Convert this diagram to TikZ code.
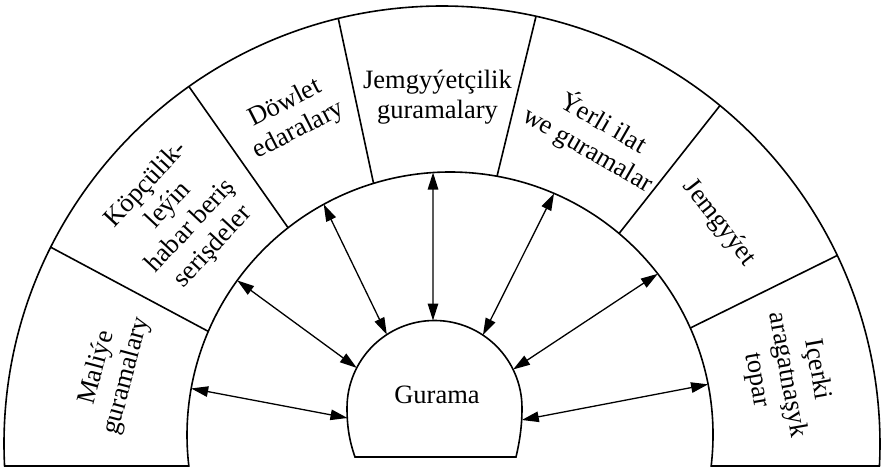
\documentclass[tikz,border=0pt]{standalone}
\usepackage{fontspec}
\setmainfont{Liberation Serif}
\usetikzlibrary{arrows.meta,calc}
\begin{document}
\begin{tikzpicture}[x=1pt,y=1pt,
  outline/.style={line width=1.6pt, line join=miter},
  link/.style={line width=1.3pt, {Triangle[length=17pt,width=10.5pt]}-{Triangle[length=17pt,width=10.5pt]}},
  lbl/.style={align=center, font=\fontsize{26.5}{30.5}\selectfont, inner sep=0pt}]
\useasboundingbox (0,0) rectangle (881,470);
% centres
\coordinate (O) at (442,26);
\coordinate (I) at (450,35);
\coordinate (G) at (434.5,62);
% ring
\draw[outline] ($(O)+(182.88:438)$) arc[start angle=182.88, end angle=-2.88, radius=438]
  -- ($(I)+(-6.77:263)$) arc[start angle=-6.77, end angle=186.77, radius=263] -- cycle;
% dividers
\foreach \a/\b in {153.3/156.8, 125.3/128, 103.7/106.9, 77.6/79.7, 50.6/50, 25.5/24}
  \draw[outline] ($(O)+(\a:438)$) -- ($(I)+(\b:263)$);
% Gurama shape
\draw[outline] (355,13) .. controls (349,30) and (347,45) .. (347,62)
  arc[start angle=180, end angle=0, radius=87.5]
  .. controls (522,45) and (520,30) .. (516,13) -- cycle;
\node[lbl, anchor=base] (gurama) at (437,66) {Gurama};
% sector labels
\node[lbl, rotate=75] (maliye) at (112,98) {Maliýe\\guramalary};
\node[lbl, rotate=47] (kopculik) at (180,254) {Köpçülik-\\leýin\\habar beriş\\serişdeler};
\node[lbl, rotate=27] (dowlet) at (292,353) {Döwlet\\edaralary};
\node[lbl] (jemgyyetcilik) at (437.5,373) {Jemgyýetçilik\\guramalary};
\node[lbl, rotate=-30] (yerli) at (596,334) {Ýerli ilat\\we guramalar};
\node[lbl, rotate=-52] (jemgyyet) at (719,247) {Jemgyýet};
\node[lbl, rotate=-80] (icerki) at (787,95) {Içerki\\aragatnaşyk\\topar};
% arrow end points
\coordinate (i1) at ($(I)+(169.8:263)$);
\coordinate (i2) at ($(I)+(144:263)$);
\coordinate (i3) at ($(I)+(118.7:263)$);
\coordinate (i4) at ($(I)+(93.7:263)$);
\coordinate (i5) at ($(I)+(66.7:263)$);
\coordinate (i6) at ($(I)+(37.8:263)$);
\coordinate (i7) at ($(I)+(11.1:263)$);
\coordinate (g1) at (347.5,52);
\coordinate (g2) at ($(G)+(152.7:87.5)$);
\coordinate (g3) at ($(G)+(123:87.5)$);
\coordinate (g4) at ($(G)+(91:87.5)$);
\coordinate (g5) at ($(G)+(56.4:87.5)$);
\coordinate (g6) at ($(G)+(26.1:87.5)$);
\coordinate (g7) at (521.8,50);
\foreach \k in {1,...,7}
  \draw[link] (i\k) -- (g\k);
\end{tikzpicture}
\end{document}
